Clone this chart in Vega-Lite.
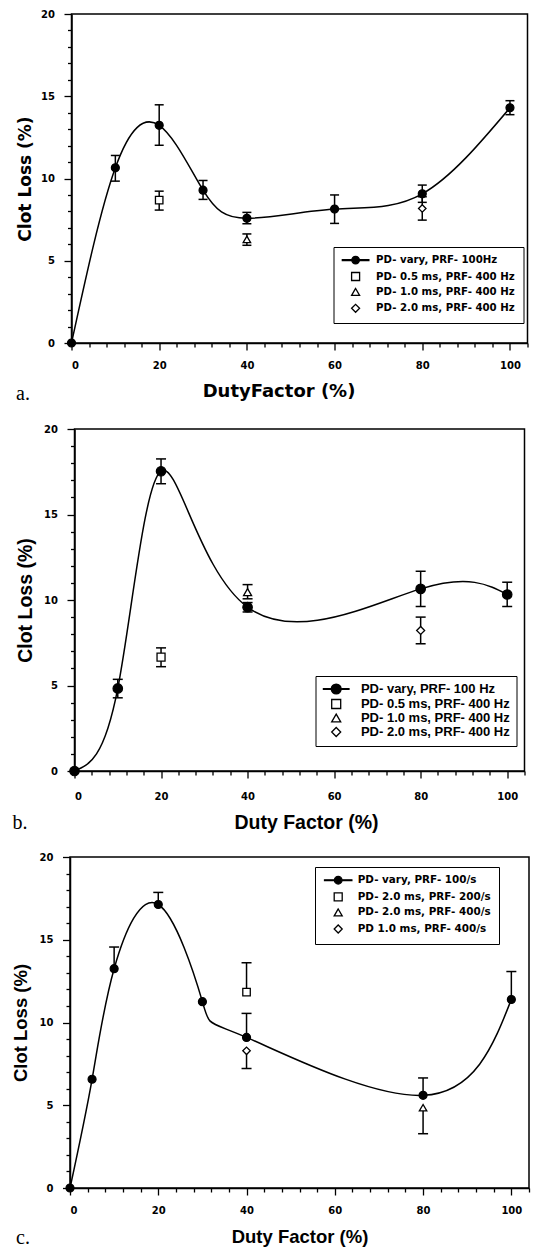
{
  "$schema": "https://vega.github.io/schema/vega-lite/v6.json",
  "autosize": {"type": "pad"},
  "padding": {"left": 10, "top": 8, "right": 4, "bottom": 4},
  "background": "white",
  "datasets": {
    "a_pts": [
      {"x": 0, "y": 0, "series": "PD- vary, PRF- 100Hz"},
      {"x": 10, "y": 10.65, "series": "PD- vary, PRF- 100Hz"},
      {"x": 20, "y": 13.23, "series": "PD- vary, PRF- 100Hz"},
      {"x": 30, "y": 9.29, "series": "PD- vary, PRF- 100Hz"},
      {"x": 40, "y": 7.58, "series": "PD- vary, PRF- 100Hz"},
      {"x": 60, "y": 8.14, "series": "PD- vary, PRF- 100Hz"},
      {"x": 80, "y": 9.07, "series": "PD- vary, PRF- 100Hz"},
      {"x": 100, "y": 14.3, "series": "PD- vary, PRF- 100Hz"},
      {"x": 20, "y": 8.69, "series": "PD- 0.5 ms, PRF- 400 Hz"},
      {"x": 40, "y": 6.3, "series": "PD- 1.0 ms, PRF- 400 Hz"},
      {"x": 80, "y": 8.18, "series": "PD- 2.0 ms, PRF- 400 Hz"}
    ],
    "a_err": [
      {"x": 10, "from": 10.65, "to": 11.4}, {"x": 10, "from": 10.65, "to": 9.84},
      {"x": 20, "from": 13.23, "to": 14.48}, {"x": 20, "from": 13.23, "to": 12.02},
      {"x": 30, "from": 9.29, "to": 9.88}, {"x": 30, "from": 9.29, "to": 8.73},
      {"x": 40, "from": 7.58, "to": 7.94}, {"x": 40, "from": 7.58, "to": 7.25},
      {"x": 60, "from": 8.14, "to": 9.0}, {"x": 60, "from": 8.14, "to": 7.27},
      {"x": 80, "from": 9.07, "to": 9.6}, {"x": 80, "from": 9.07, "to": 8.55},
      {"x": 100, "from": 14.3, "to": 14.73}, {"x": 100, "from": 14.3, "to": 13.88},
      {"x": 20, "from": 8.69, "to": 9.23}, {"x": 20, "from": 8.69, "to": 8.08},
      {"x": 40, "from": 6.3, "to": 6.63}, {"x": 40, "from": 6.3, "to": 5.94},
      {"x": 80, "from": 8.18, "to": 8.89}, {"x": 80, "from": 8.18, "to": 7.47}
    ],
    "b_pts": [
      {"x": 0, "y": 0, "series": "PD- vary, PRF- 100 Hz"},
      {"x": 10, "y": 4.83, "series": "PD- vary, PRF- 100 Hz"},
      {"x": 20, "y": 17.53, "series": "PD- vary, PRF- 100 Hz"},
      {"x": 40, "y": 9.58, "series": "PD- vary, PRF- 100 Hz"},
      {"x": 80, "y": 10.65, "series": "PD- vary, PRF- 100 Hz"},
      {"x": 100, "y": 10.32, "series": "PD- vary, PRF- 100 Hz"},
      {"x": 20, "y": 6.66, "series": "PD- 0.5 ms, PRF- 400 Hz"},
      {"x": 40, "y": 10.46, "series": "PD- 1.0 ms, PRF- 400 Hz"},
      {"x": 80, "y": 8.22, "series": "PD- 2.0 ms, PRF- 400 Hz"}
    ],
    "b_err": [
      {"x": 10, "from": 4.83, "to": 5.36}, {"x": 10, "from": 4.83, "to": 4.28},
      {"x": 20, "from": 17.53, "to": 18.25}, {"x": 20, "from": 17.53, "to": 16.8},
      {"x": 40, "from": 9.58, "to": 9.85}, {"x": 40, "from": 9.58, "to": 9.3},
      {"x": 80, "from": 10.65, "to": 11.68}, {"x": 80, "from": 10.65, "to": 9.62},
      {"x": 100, "from": 10.32, "to": 11.04}, {"x": 100, "from": 10.32, "to": 9.62},
      {"x": 20, "from": 6.66, "to": 7.2}, {"x": 20, "from": 6.66, "to": 6.1},
      {"x": 40, "from": 10.46, "to": 10.9}, {"x": 40, "from": 10.46, "to": 10.07},
      {"x": 80, "from": 8.22, "to": 9.0}, {"x": 80, "from": 8.22, "to": 7.44}
    ],
    "c_pts": [
      {"x": 0, "y": 0, "series": "PD- vary, PRF- 100/s"},
      {"x": 5, "y": 6.57, "series": "PD- vary, PRF- 100/s"},
      {"x": 10, "y": 13.25, "series": "PD- vary, PRF- 100/s"},
      {"x": 20, "y": 17.13, "series": "PD- vary, PRF- 100/s"},
      {"x": 30, "y": 11.26, "series": "PD- vary, PRF- 100/s"},
      {"x": 40, "y": 9.1, "series": "PD- vary, PRF- 100/s"},
      {"x": 80, "y": 5.6, "series": "PD- vary, PRF- 100/s"},
      {"x": 100, "y": 11.39, "series": "PD- vary, PRF- 100/s"},
      {"x": 40, "y": 11.83, "series": "PD- 2.0 ms, PRF- 200/s"},
      {"x": 80, "y": 4.85, "series": "PD- 2.0 ms, PRF- 400/s"},
      {"x": 40, "y": 8.29, "series": "PD 1.0 ms, PRF- 400/s"}
    ],
    "c_err": [
      {"x": 10, "from": 13.25, "to": 14.56},
      {"x": 20, "from": 17.13, "to": 17.86},
      {"x": 40, "from": 9.1, "to": 10.55},
      {"x": 80, "from": 5.6, "to": 6.65},
      {"x": 100, "from": 11.39, "to": 13.08},
      {"x": 40, "from": 11.83, "to": 13.61},
      {"x": 80, "from": 4.85, "to": 3.28},
      {"x": 40, "from": 8.29, "to": 7.22}
    ]
  },
  "vconcat": [
    {
      "width": 456,
      "height": 329,
      "title": {"text": "a.", "orient": "bottom", "anchor": "start", "frame": "group", "font": "Liberation Serif", "fontSize": 20, "fontWeight": "normal", "color": "black", "dx": -55.5, "offset": 0, "baseline": "alphabetic"},
      "layer": [
        {
          "data": {"name": "a_pts"},
          "transform": [{"filter": "datum.series == 'PD- vary, PRF- 100Hz'"}],
          "mark": {"type": "line", "interpolate": "natural", "color": "black", "strokeWidth": 1.5},
          "encoding": {
            "x": {"field": "x", "type": "quantitative", "scale": {"domain": [0, 104], "nice": false},
              "axis": {"title": "DutyFactor (%)", "titleFont": "DejaVu Sans", "titleFontSize": 18, "titleX": 207, "titleY": 48.4, "titleBaseline": "middle",
                "values": [0,4,8,12,16,20,24,28,32,36,40,44,48,52,56,60,64,68,72,76,80,84,88,92,96,100,104], "tickCount": 200, "format": "d",
                "labelExpr": "datum.value % 20 == 0 ? datum.label : ''", "labelBaseline": "middle", "labelPadding": 15.5, "labelOverlap": false, "labelBound": false,
                "tickSize": {"condition": {"test": "datum.value % 20 == 0", "value": 7}, "value": 4}}},
            "y": {"field": "y", "type": "quantitative", "scale": {"domain": [0, 20], "nice": false},
              "axis": {"title": "Clot Loss (%)", "titleFont": "DejaVu Sans", "titleFontSize": 17, "titleX": -46.5, "titleBaseline": "middle",
                "values": [0,1,2,3,4,5,6,7,8,9,10,11,12,13,14,15,16,17,18,19,20], "tickCount": 200, "format": "d",
                "labelExpr": "datum.value % 5 == 0 ? datum.label : ''", "labelPadding": 9.5, "labelOverlap": false, "labelBound": false,
                "tickSize": {"condition": {"test": "datum.value % 5 == 0", "value": 7.5}, "value": 4}}}
          }
        },
        {
          "data": {"name": "a_err"},
          "mark": {"type": "rule", "color": "black", "strokeWidth": 1.5},
          "encoding": {"x": {"field": "x", "type": "quantitative"}, "y": {"field": "from", "type": "quantitative"}, "y2": {"field": "to"}}
        },
        {
          "data": {"name": "a_err"},
          "mark": {"type": "tick", "orient": "horizontal", "size": 9, "thickness": 1.5, "color": "black", "opacity": 1},
          "encoding": {"x": {"field": "x", "type": "quantitative"}, "y": {"field": "to", "type": "quantitative"}}
        },
        {
          "data": {"name": "a_pts"},
          "transform": [{"filter": "datum.series == 'PD- vary, PRF- 100Hz'"}],
          "mark": {"type": "point", "shape": "circle", "filled": true, "fill": "black", "stroke": "black", "strokeWidth": 1.2, "opacity": 1, "size": 64},
          "encoding": {"x": {"field": "x", "type": "quantitative"}, "y": {"field": "y", "type": "quantitative"}}
        },
        {
          "data": {"name": "a_pts"},
          "transform": [{"filter": "datum.series != 'PD- vary, PRF- 100Hz'"}],
          "mark": {"type": "point", "filled": true, "strokeWidth": 1.3, "opacity": 1, "size": 56},
          "encoding": {
            "x": {"field": "x", "type": "quantitative"},
            "y": {"field": "y", "type": "quantitative"},
            "shape": {"field": "series", "type": "nominal",
              "scale": {"domain": ["PD- vary, PRF- 100Hz", "PD- 0.5 ms, PRF- 400 Hz", "PD- 1.0 ms, PRF- 400 Hz", "PD- 2.0 ms, PRF- 400 Hz"], "range": ["M-3.32,-0.1H-0.95V0.1H-3.32Z M0.95,-0.1H3.32V0.1H0.95Z M-0.95,0A0.95,0.95,0,1,0,0.95,0A0.95,0.95,0,1,0,-0.95,0Z", "square", "triangle-up", "diamond"]},
              "legend": {"title": null, "orient": "none", "legendX": 262, "legendY": 233, "strokeColor": "black", "fillColor": "white", "padding": 8, "symbolOffset": 9, "labelOffset": 15.4, "rowPadding": 2.4, "symbolSize": 64, "symbolStrokeWidth": 1.3, "symbolOpacity": 1, "labelFont": "DejaVu Sans", "labelFontWeight": "bold", "labelFontSize": 10.2, "labelColor": "black", "labelLimit": 400}},
            "fill": {"field": "series", "type": "nominal",
              "scale": {"domain": ["PD- vary, PRF- 100Hz", "PD- 0.5 ms, PRF- 400 Hz", "PD- 1.0 ms, PRF- 400 Hz", "PD- 2.0 ms, PRF- 400 Hz"], "range": ["black", "white", "white", "white"]},
              "legend": {"title": null, "orient": "none", "legendX": 262, "legendY": 233, "strokeColor": "black", "fillColor": "white", "padding": 8, "symbolOffset": 9, "labelOffset": 15.4, "rowPadding": 2.4, "symbolSize": 64, "symbolStrokeWidth": 1.3, "symbolOpacity": 1, "labelFont": "DejaVu Sans", "labelFontWeight": "bold", "labelFontSize": 10.2, "labelColor": "black", "labelLimit": 400}},
            "stroke": {"field": "series", "type": "nominal",
              "scale": {"domain": ["PD- vary, PRF- 100Hz", "PD- 0.5 ms, PRF- 400 Hz", "PD- 1.0 ms, PRF- 400 Hz", "PD- 2.0 ms, PRF- 400 Hz"], "range": ["black", "black", "black", "black"]},
              "legend": {"title": null, "orient": "none", "legendX": 262, "legendY": 233, "strokeColor": "black", "fillColor": "white", "padding": 8, "symbolOffset": 9, "labelOffset": 15.4, "rowPadding": 2.4, "symbolSize": 64, "symbolStrokeWidth": 1.3, "symbolOpacity": 1, "labelFont": "DejaVu Sans", "labelFontWeight": "bold", "labelFontSize": 10.2, "labelColor": "black", "labelLimit": 400}}
          }
        }
      ]
    },
    {
      "width": 450,
      "height": 342,
      "title": {"text": "b.", "orient": "bottom", "anchor": "start", "frame": "group", "font": "Liberation Serif", "fontSize": 20, "fontWeight": "normal", "color": "black", "dx": -62, "offset": -3, "baseline": "alphabetic"},
      "layer": [
        {
          "data": {"name": "b_pts"},
          "transform": [{"filter": "datum.series == 'PD- vary, PRF- 100 Hz'"}],
          "mark": {"type": "line", "interpolate": "natural", "color": "black", "strokeWidth": 1.5},
          "encoding": {
            "x": {"field": "x", "type": "quantitative", "scale": {"domain": [0, 104], "nice": false},
              "axis": {"title": "Duty Factor (%)", "titleFont": "Liberation Sans", "titleFontSize": 19.5, "titleX": 231.5, "titleY": 51.5, "titleBaseline": "middle",
                "values": [0,4,8,12,16,20,24,28,32,36,40,44,48,52,56,60,64,68,72,76,80,84,88,92,96,100,104], "tickCount": 200, "format": "d",
                "labelExpr": "datum.value % 20 == 0 ? datum.label : ''", "labelBaseline": "middle", "labelPadding": 18.5, "labelOverlap": false, "labelBound": false,
                "tickSize": {"condition": {"test": "datum.value % 20 == 0", "value": 7}, "value": 4}}},
            "y": {"field": "y", "type": "quantitative", "scale": {"domain": [0, 20], "nice": false},
              "axis": {"title": "Clot Loss (%)", "titleFont": "Liberation Sans", "titleFontSize": 19.5, "titleX": -48.7, "titleBaseline": "middle",
                "values": [0,1,2,3,4,5,6,7,8,9,10,11,12,13,14,15,16,17,18,19,20], "tickCount": 200, "format": "d",
                "labelExpr": "datum.value % 5 == 0 ? datum.label : ''", "labelPadding": 9.5, "labelOverlap": false, "labelBound": false,
                "tickSize": {"condition": {"test": "datum.value % 5 == 0", "value": 7.5}, "value": 4}}}
          }
        },
        {
          "data": {"name": "b_err"},
          "mark": {"type": "rule", "color": "black", "strokeWidth": 1.5},
          "encoding": {"x": {"field": "x", "type": "quantitative"}, "y": {"field": "from", "type": "quantitative"}, "y2": {"field": "to"}}
        },
        {
          "data": {"name": "b_err"},
          "mark": {"type": "tick", "orient": "horizontal", "size": 10, "thickness": 1.5, "color": "black", "opacity": 1},
          "encoding": {"x": {"field": "x", "type": "quantitative"}, "y": {"field": "to", "type": "quantitative"}}
        },
        {
          "data": {"name": "b_pts"},
          "transform": [{"filter": "datum.series == 'PD- vary, PRF- 100 Hz'"}],
          "mark": {"type": "point", "shape": "circle", "filled": true, "fill": "black", "stroke": "black", "strokeWidth": 1.2, "opacity": 1, "size": 90},
          "encoding": {"x": {"field": "x", "type": "quantitative"}, "y": {"field": "y", "type": "quantitative"}}
        },
        {
          "data": {"name": "b_pts"},
          "transform": [{"filter": "datum.series != 'PD- vary, PRF- 100 Hz'"}],
          "mark": {"type": "point", "filled": true, "strokeWidth": 1.3, "opacity": 1, "size": 64},
          "encoding": {
            "x": {"field": "x", "type": "quantitative"},
            "y": {"field": "y", "type": "quantitative"},
            "shape": {"field": "series", "type": "nominal",
              "scale": {"domain": ["PD- vary, PRF- 100 Hz", "PD- 0.5 ms, PRF- 400 Hz", "PD- 1.0 ms, PRF- 400 Hz", "PD- 2.0 ms, PRF- 400 Hz"], "range": ["M-2.84,-0.09H-1.1V0.09H-2.84Z M1.1,-0.09H2.84V0.09H1.1Z M-1.1,0A1.1,1.1,0,1,0,1.1,0A1.1,1.1,0,1,0,-1.1,0Z", "square", "triangle-up", "diamond"]},
              "legend": {"title": null, "orient": "none", "legendX": 241, "legendY": 247, "strokeColor": "black", "fillColor": "white", "padding": 6.5, "symbolOffset": 7.7, "labelOffset": 18.2, "rowPadding": -1.5, "symbolSize": 81, "symbolStrokeWidth": 1.3, "symbolOpacity": 1, "labelFont": "Liberation Sans", "labelFontWeight": "bold", "labelFontSize": 13, "labelColor": "black", "labelLimit": 400}},
            "fill": {"field": "series", "type": "nominal",
              "scale": {"domain": ["PD- vary, PRF- 100 Hz", "PD- 0.5 ms, PRF- 400 Hz", "PD- 1.0 ms, PRF- 400 Hz", "PD- 2.0 ms, PRF- 400 Hz"], "range": ["black", "white", "white", "white"]},
              "legend": {"title": null, "orient": "none", "legendX": 241, "legendY": 247, "strokeColor": "black", "fillColor": "white", "padding": 6.5, "symbolOffset": 7.7, "labelOffset": 18.2, "rowPadding": -1.5, "symbolSize": 81, "symbolStrokeWidth": 1.3, "symbolOpacity": 1, "labelFont": "Liberation Sans", "labelFontWeight": "bold", "labelFontSize": 13, "labelColor": "black", "labelLimit": 400}},
            "stroke": {"field": "series", "type": "nominal",
              "scale": {"domain": ["PD- vary, PRF- 100 Hz", "PD- 0.5 ms, PRF- 400 Hz", "PD- 1.0 ms, PRF- 400 Hz", "PD- 2.0 ms, PRF- 400 Hz"], "range": ["black", "black", "black", "black"]},
              "legend": {"title": null, "orient": "none", "legendX": 241, "legendY": 247, "strokeColor": "black", "fillColor": "white", "padding": 6.5, "symbolOffset": 7.7, "labelOffset": 18.2, "rowPadding": -1.5, "symbolSize": 81, "symbolStrokeWidth": 1.3, "symbolOpacity": 1, "labelFont": "Liberation Sans", "labelFontWeight": "bold", "labelFontSize": 13, "labelColor": "black", "labelLimit": 400}}
          }
        }
      ]
    },
    {
      "width": 459,
      "height": 331,
      "title": {"text": "c.", "orient": "bottom", "anchor": "start", "frame": "group", "font": "Liberation Serif", "fontSize": 20, "fontWeight": "normal", "color": "black", "dx": -54, "offset": -2, "baseline": "alphabetic"},
      "layer": [
        {
          "data": {"name": "c_pts"},
          "transform": [{"filter": "datum.series == 'PD- vary, PRF- 100/s'"}],
          "mark": {"type": "line", "interpolate": "natural", "color": "black", "strokeWidth": 1.5},
          "encoding": {
            "x": {"field": "x", "type": "quantitative", "scale": {"domain": [0, 104], "nice": false},
              "axis": {"title": "Duty Factor (%)", "titleFont": "Liberation Sans", "titleFontSize": 18.5, "titleY": 48, "titleBaseline": "middle",
                "values": [0,4,8,12,16,20,24,28,32,36,40,44,48,52,56,60,64,68,72,76,80,84,88,92,96,100,104], "tickCount": 200, "format": "d",
                "labelExpr": "datum.value % 20 == 0 ? datum.label : ''", "labelBaseline": "middle", "labelPadding": 15.5, "labelOverlap": false, "labelBound": false,
                "tickSize": {"condition": {"test": "datum.value % 20 == 0", "value": 7}, "value": 4}}},
            "y": {"field": "y", "type": "quantitative", "scale": {"domain": [0, 20], "nice": false},
              "axis": {"title": "Clot Loss (%)", "titleFont": "Liberation Sans", "titleFontSize": 18.5, "titleX": -49.4, "titleBaseline": "middle",
                "values": [0,1,2,3,4,5,6,7,8,9,10,11,12,13,14,15,16,17,18,19,20], "tickCount": 200, "format": "d",
                "labelExpr": "datum.value % 5 == 0 ? datum.label : ''", "labelPadding": 9.5, "labelOverlap": false, "labelBound": false,
                "tickSize": {"condition": {"test": "datum.value % 5 == 0", "value": 7.5}, "value": 4}}}
          }
        },
        {
          "data": {"name": "c_err"},
          "mark": {"type": "rule", "color": "black", "strokeWidth": 1.5},
          "encoding": {"x": {"field": "x", "type": "quantitative"}, "y": {"field": "from", "type": "quantitative"}, "y2": {"field": "to"}}
        },
        {
          "data": {"name": "c_err"},
          "mark": {"type": "tick", "orient": "horizontal", "size": 10, "thickness": 1.5, "color": "black", "opacity": 1},
          "encoding": {"x": {"field": "x", "type": "quantitative"}, "y": {"field": "to", "type": "quantitative"}}
        },
        {
          "data": {"name": "c_pts"},
          "transform": [{"filter": "datum.series == 'PD- vary, PRF- 100/s'"}],
          "mark": {"type": "point", "shape": "circle", "filled": true, "fill": "black", "stroke": "black", "strokeWidth": 1.2, "opacity": 1, "size": 64},
          "encoding": {"x": {"field": "x", "type": "quantitative"}, "y": {"field": "y", "type": "quantitative"}}
        },
        {
          "data": {"name": "c_pts"},
          "transform": [{"filter": "datum.series != 'PD- vary, PRF- 100/s'"}],
          "mark": {"type": "point", "filled": true, "strokeWidth": 1.3, "opacity": 1, "size": 56},
          "encoding": {
            "x": {"field": "x", "type": "quantitative"},
            "y": {"field": "y", "type": "quantitative"},
            "shape": {"field": "series", "type": "nominal",
              "scale": {"domain": ["PD- vary, PRF- 100/s", "PD- 2.0 ms, PRF- 200/s", "PD- 2.0 ms, PRF- 400/s", "PD 1.0 ms, PRF- 400/s"], "range": ["M-3.42,-0.1H-0.95V0.1H-3.42Z M0.95,-0.1H3.42V0.1H0.95Z M-0.95,0A0.95,0.95,0,1,0,0.95,0A0.95,0.95,0,1,0,-0.95,0Z", "square", "triangle-up", "diamond"]},
              "legend": {"title": null, "orient": "none", "legendX": 245, "legendY": 10, "strokeColor": "black", "fillColor": "white", "padding": 8, "symbolOffset": 10, "labelOffset": 14.3, "rowPadding": 2.6, "symbolSize": 64, "symbolStrokeWidth": 1.3, "symbolOpacity": 1, "labelFont": "DejaVu Sans", "labelFontWeight": "bold", "labelFontSize": 10.4, "labelColor": "black", "labelLimit": 400}},
            "fill": {"field": "series", "type": "nominal",
              "scale": {"domain": ["PD- vary, PRF- 100/s", "PD- 2.0 ms, PRF- 200/s", "PD- 2.0 ms, PRF- 400/s", "PD 1.0 ms, PRF- 400/s"], "range": ["black", "white", "white", "white"]},
              "legend": {"title": null, "orient": "none", "legendX": 245, "legendY": 10, "strokeColor": "black", "fillColor": "white", "padding": 8, "symbolOffset": 10, "labelOffset": 14.3, "rowPadding": 2.6, "symbolSize": 64, "symbolStrokeWidth": 1.3, "symbolOpacity": 1, "labelFont": "DejaVu Sans", "labelFontWeight": "bold", "labelFontSize": 10.4, "labelColor": "black", "labelLimit": 400}},
            "stroke": {"field": "series", "type": "nominal",
              "scale": {"domain": ["PD- vary, PRF- 100/s", "PD- 2.0 ms, PRF- 200/s", "PD- 2.0 ms, PRF- 400/s", "PD 1.0 ms, PRF- 400/s"], "range": ["black", "black", "black", "black"]},
              "legend": {"title": null, "orient": "none", "legendX": 245, "legendY": 10, "strokeColor": "black", "fillColor": "white", "padding": 8, "symbolOffset": 10, "labelOffset": 14.3, "rowPadding": 2.6, "symbolSize": 64, "symbolStrokeWidth": 1.3, "symbolOpacity": 1, "labelFont": "DejaVu Sans", "labelFontWeight": "bold", "labelFontSize": 10.4, "labelColor": "black", "labelLimit": 400}}
          }
        }
      ]
    }
  ],
  "spacing": 86,
  "bounds": "flush",
  "center": true,
  "resolve": {"scale": {"shape": "independent", "fill": "independent", "stroke": "independent"}, "legend": {"shape": "independent", "fill": "independent", "stroke": "independent"}},
  "config": {
    "view": {"stroke": "black", "strokeWidth": 1.5},
    "axis": {"grid": false, "domainColor": "black", "domainWidth": 1.5, "tickColor": "black", "tickWidth": 1.3, "labelColor": "black", "titleColor": "black", "labelFont": "DejaVu Sans", "labelFontWeight": "bold", "labelFontSize": 10, "titleFontWeight": "bold"}
  }
}
